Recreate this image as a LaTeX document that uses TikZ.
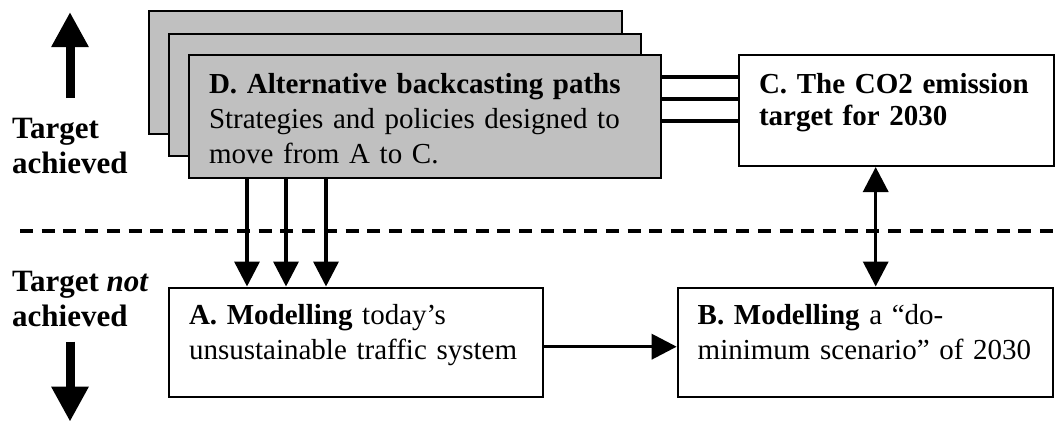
\documentclass[tikz,border=0pt]{standalone}
\usepackage{fontspec}
\setmainfont{Liberation Serif}
\usetikzlibrary{arrows.meta}
\definecolor{pathgray}{RGB}{192,192,192}
\begin{document}
\begin{tikzpicture}[x=1pt,y=-1pt,
    every node/.style={font=\fontsize{29}{35}\selectfont, inner ysep=0pt, inner xsep=20pt,
      anchor=north west, align=left},
    box/.style={draw, line width=2pt},
    graybox/.style={box, fill=pathgray},
    conn/.style={line width=3.5pt, -{Triangle[length=25pt,width=25pt]}},
    dconn/.style={line width=3.5pt, {Triangle[length=25pt,width=25pt]}-{Triangle[length=25pt,width=25pt]}},
    bigarrow/.style={line width=9pt, -{Triangle[length=35pt,width=35pt]}},
    sidelabel/.style={inner sep=0pt, anchor=base west, font=\fontsize{31}{35}\selectfont\bfseries}]
  \useasboundingbox (0,0) rectangle (1061,423);

  \node[sidelabel] (tach) at (12,173.3) {Target\\achieved};
  \node[sidelabel] (tnot) at (12,326.7) {Target \textit{not}\\achieved};
  \coordinate (uptail) at (70,98);
  \coordinate (uptip) at (70,12);
  \coordinate (downtail) at (70,341.7);
  \coordinate (downtip) at (70,421.7);
  \draw[bigarrow] (uptail) -- (uptip);
  \draw[bigarrow] (downtail) -- (downtip);

  \draw[line width=4pt, dash pattern=on 13pt off 8.7pt] (20,231) -- (1061,231);

  \node[graybox, minimum width=473pt, minimum height=123pt] (Dback) at (148,10) {};
  \node[graybox, minimum width=472pt, minimum height=122pt] (Dmid) at (168,33) {};
  \node[graybox, text width=432pt, text height=38.7pt, text depth=84.3pt] (D) at (188,54)
    {\textbf{D. Alternative backcasting paths}\\Strategies and policies designed to\\move from A to C.};
  \node[box, text width=274.7pt, text height=38.3pt, text depth=72.7pt,
    font=\fontsize{29}{32}\selectfont\bfseries] (C) at (738,54)
    {C. The CO2 emission\\target for 2030};
  \node[box, text width=333.7pt, text height=36.8pt, text depth=72.7pt] (A) at (168,286.5)
    {\textbf{A. Modelling} today's\\unsustainable traffic system};
  \node[box, text width=335.6pt, text height=36.8pt, text depth=72.7pt] (B) at (676.7,286.5)
    {\textbf{B. Modelling} a ``do-\\minimum scenario'' of 2030};

  \foreach \y in {77,99,121}
    \draw[line width=3.5pt] (D.east |- 0,\y) -- (C.west |- 0,\y);
  \foreach \x in {247,286,326}
    \draw[conn] (D.south -| \x,0) -- (A.north -| \x,0);
  \draw[conn] (A.east |- 0,346.7) -- (B.west |- 0,346.7);
  \draw[dconn] (C.south -| 875.7,0) -- (B.north -| 875.7,0);
\end{tikzpicture}
\end{document}
